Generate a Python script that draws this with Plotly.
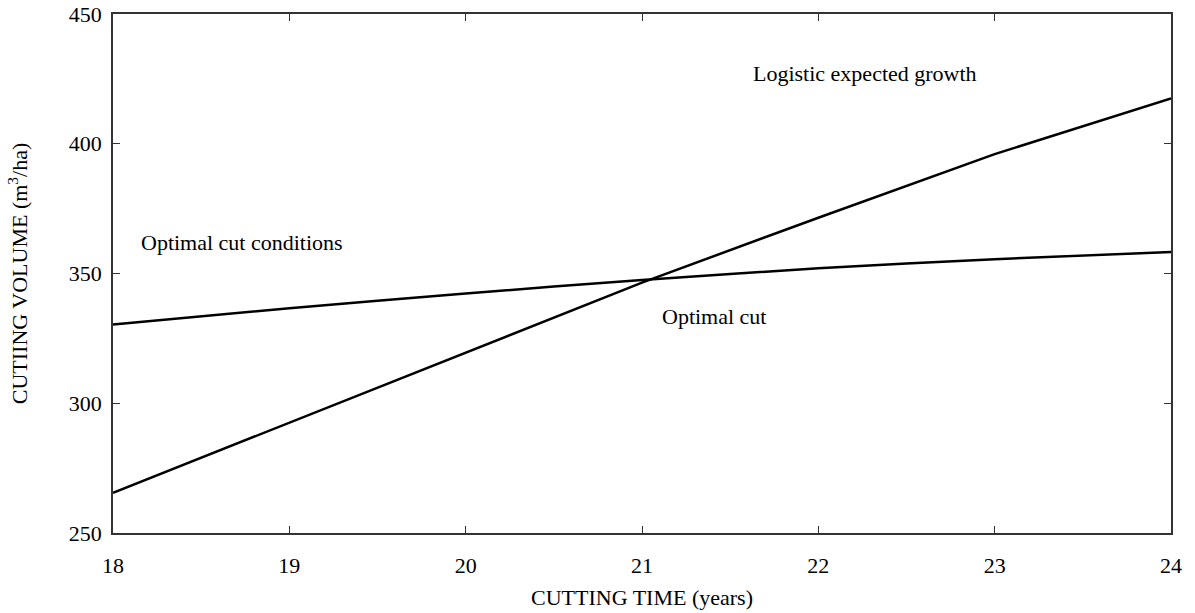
import plotly.graph_objects as go

# Cutting time (years)
years = [18, 19, 20, 21, 22, 23, 24]

# Logistic expected growth (m3/ha)
logistic_growth = [265.5, 292.5, 319.5, 346.5, 371.5, 396.0, 417.5]

# Optimal cut conditions curve (m3/ha)
optimal_conditions = [330.3, 336.6, 342.3, 347.5, 352.0, 355.5, 358.3]

x_ticks = [18, 19, 20, 21, 22, 23, 24]
y_ticks = [250, 300, 350, 400, 450]

FONT = "Liberation Serif, Times New Roman, serif"
SIZE = 22

fig = go.Figure()
fig.add_trace(go.Scatter(
    x=years, y=logistic_growth, mode="lines",
    line=dict(color="black", width=2.5), showlegend=False,
))
fig.add_trace(go.Scatter(
    x=years, y=optimal_conditions, mode="lines",
    line=dict(color="black", width=2.5, shape="spline", smoothing=0.8),
    showlegend=False,
))

annotations = [
    dict(x=21.62, y=427, text="Logistic expected growth"),
    dict(x=18.15, y=362, text="Optimal cut conditions"),
    dict(x=21.10, y=333.5, text="Optimal cut"),
]
for a in annotations:
    fig.add_annotation(
        x=a["x"], y=a["y"], text=a["text"], showarrow=False,
        xanchor="left", yanchor="middle",
        font=dict(family=FONT, size=SIZE, color="black"),
    )

axis_common = dict(
    showgrid=False, zeroline=False, automargin=False,
    showline=True, linecolor="#333333", linewidth=1.5,
    mirror="ticks", ticks="inside", ticklen=7, tickwidth=1.2,
    tickcolor="#333333",
    tickfont=dict(family=FONT, size=SIZE, color="black"),
)

fig.update_xaxes(
    range=[18, 24], tickvals=x_ticks, ticklabelstandoff=12,
    title=dict(text="CUTTING TIME (years)", standoff=12,
               font=dict(family=FONT, size=SIZE, color="black")),
    **axis_common,
)
fig.update_yaxes(
    range=[250, 450], tickvals=y_ticks, ticklabelstandoff=5,
    title=dict(text="CUTIING VOLUME (m<sup>3</sup>/ha)", standoff=35,
               font=dict(family=FONT, size=SIZE, color="black")),
    **axis_common,
)

fig.update_layout(
    width=1195, height=613,
    margin=dict(l=113, r=24, t=14, b=80),
    plot_bgcolor="white", paper_bgcolor="white",
)

fig.write_html("out.html")
